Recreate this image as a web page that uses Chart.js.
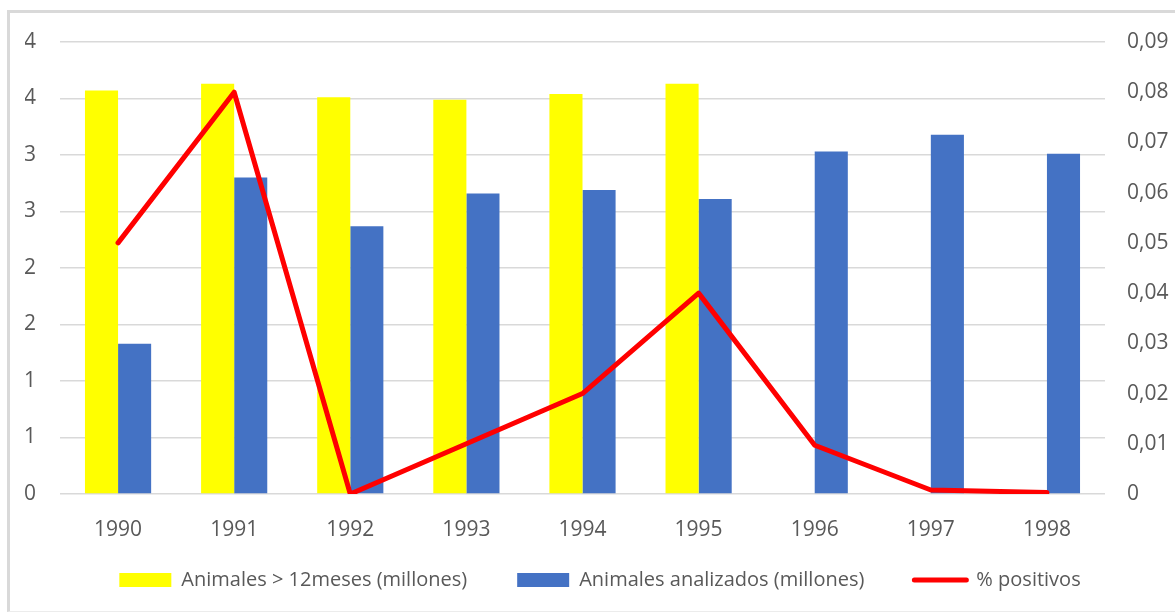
<!DOCTYPE html>
<html>
<head>
<meta charset="utf-8">
<script src="https://cdn.jsdelivr.net/npm/chart.js@4/dist/chart.umd.min.js"></script>
<style>
  html, body { margin: 0; padding: 0; background: #ffffff; }
  #wrap { position: relative; width: 1175px; height: 614px; overflow: hidden; }
  #frame {
    position: absolute; left: 7px; top: 10px; width: 1200px; height: 598px;
    border-left: 3px solid #d9d9d9; border-top: 3px solid #d9d9d9;
    border-bottom: 1px solid #ececec;
  }
  #chart { position: absolute; left: 0; top: 0; }
</style>
</head>
<body>
<div id="wrap">
  <div id="frame"></div>
  <canvas id="chart" width="1175" height="614"></canvas>
</div>
<script>
// Years on the category axis
const years = ['1990', '1991', '1992', '1993', '1994', '1995', '1996', '1997', '1998'];

// Cattle older than 12 months (millions)
const animalesMayores = [3.57, 3.63, 3.51, 3.49, 3.54, 3.63, null, null, null];

// Animals tested (millions)
const animalesAnalizados = [1.33, 2.80, 2.37, 2.66, 2.69, 2.61, 3.03, 3.18, 3.01];

// Share of positive results (right axis)
const positivos = [0.05, 0.08, 0.0, 0.01, 0.02, 0.04, 0.0097, 0.0008, 0.0003];

const seriesNames = ['Animales > 12meses (millones)', 'Animales analizados (millones)', '% positivos'];

const textColor = '#595959';
const gridColor = '#d9d9d9';
const legendPadding = 50;

// Keep the legend box compact so the year labels keep their room,
// then give its single row a band of its own below them.
const legendPlacement = {
  id: 'legendPlacement',
  beforeLayout(chart) {
    const lg = chart.legend;
    if (lg && !lg._fitWrapped) {
      const fit = lg.fit;
      lg.fit = function () { fit.call(this); this.height = 46; };
      lg._fitWrapped = true;
    }
  },
  afterLayout(chart) {
    const lg = chart.legend;
    if (lg) {
      lg.top = 580 - 10 - legendPadding;
      lg.bottom = chart.height;
      lg.height = lg.bottom - lg.top;
    }
  }
};

new Chart(document.getElementById('chart'), {
  data: {
    labels: years,
    datasets: [
      {
        type: 'bar',
        label: seriesNames[0],
        data: animalesMayores,
        backgroundColor: '#ffff00',
        borderWidth: 0,
        yAxisID: 'y',
        order: 1,
        categoryPercentage: 0.57,
        barPercentage: 1.0
      },
      {
        type: 'bar',
        label: seriesNames[1],
        data: animalesAnalizados,
        backgroundColor: '#4472c4',
        borderWidth: 0,
        yAxisID: 'y',
        order: 1,
        categoryPercentage: 0.57,
        barPercentage: 1.0
      },
      {
        type: 'line',
        label: seriesNames[2],
        data: positivos,
        borderColor: '#ff0000',
        backgroundColor: '#ff0000',
        borderWidth: 5,
        borderCapStyle: 'round',
        borderJoinStyle: 'round',
        pointRadius: 0,
        tension: 0,
        yAxisID: 'y1',
        order: 0
      }
    ]
  },
  options: {
    responsive: false,
    animation: false,
    layout: { padding: { top: 42, left: 25, right: 0, bottom: 10 } },
    plugins: {
      tooltip: { enabled: false },
      legend: {
        position: 'bottom',
        labels: {
          color: textColor,
          font: { family: 'Open Sans', size: 20 },
          usePointStyle: true,
          pointStyleWidth: 52,
          boxHeight: 14,
          padding: legendPadding,
          sort: (a, b) => a.datasetIndex - b.datasetIndex,
          generateLabels(chart) {
            const items = Chart.defaults.plugins.legend.labels.generateLabels(chart);
            items.forEach(it => {
              if (it.datasetIndex === 2) {
                it.pointStyle = 'line';
                it.lineWidth = 5;
                it.strokeStyle = '#ff0000';
                it.lineCap = 'round';
              } else {
                it.pointStyle = 'rect';
                it.lineWidth = 0;
              }
            });
            return items;
          }
        }
      }
    },
    scales: {
      x: {
        grid: { display: false },
        border: { display: false },
        ticks: {
          color: textColor,
          font: { family: 'Open Sans', size: 21 },
          padding: 15,
          maxRotation: 0
        },
        afterFit(scale) { scale.height = 64; }
      },
      y: {
        position: 'left',
        min: 0,
        max: 4,
        border: { display: false },
        grid: { color: gridColor, lineWidth: 1.5, drawTicks: false },
        ticks: {
          stepSize: 0.5,
          color: textColor,
          font: { family: 'Open Sans', size: 21 },
          padding: 24,
          callback: v => String(Math.round(v))
        },
        afterFit(scale) { scale.width = 35; }
      },
      y1: {
        position: 'right',
        min: 0,
        max: 0.09,
        border: { display: false },
        grid: { display: false, drawTicks: false },
        ticks: {
          stepSize: 0.01,
          color: textColor,
          font: { family: 'Open Sans', size: 21 },
          padding: 22,
          callback: v => (Math.abs(v) < 1e-9 ? '0' : v.toFixed(2).replace('.', ','))
        },
        afterFit(scale) { scale.width = 70; }
      }
    }
  },
  plugins: [legendPlacement]
});
</script>
</body>
</html>
